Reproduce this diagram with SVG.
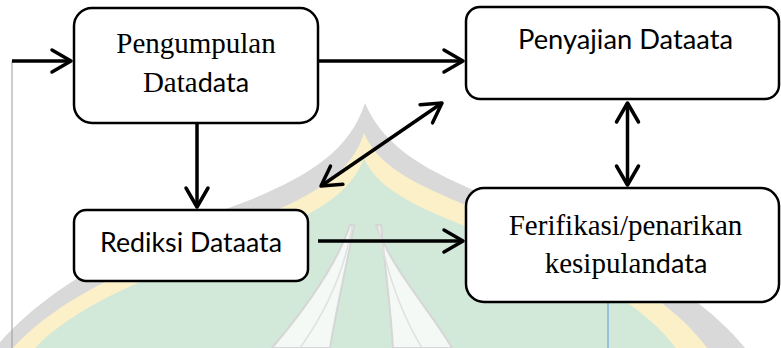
<svg xmlns="http://www.w3.org/2000/svg" width="781" height="348" viewBox="0 0 781 348">
<defs>
<style>
.box{fill:#fff;stroke:#000;stroke-width:2.5}
.serif{font-family:"Liberation Serif","Times New Roman",serif;font-size:29px;fill:#000}
.sans{font-family:Lato,"Open Sans",sans-serif;font-size:27px;fill:#000}
.conn{fill:none;stroke:#000;stroke-width:3.5}
.thin{fill:none;stroke-width:1}
.blade{fill:#fff;fill-opacity:0.75;stroke:#d6d6d6;stroke-width:2}
</style>
<marker id="ah" viewBox="-24 -14 28 28" refX="0" refY="0" markerWidth="28" markerHeight="28" markerUnits="userSpaceOnUse" orient="auto-start-reverse">
<path d="M-19,-11 L0,0 L-19,11" fill="none" stroke="#000" stroke-width="3.5" stroke-linecap="round" stroke-linejoin="round"/>
</marker>
</defs>
<rect width="781" height="348" fill="#fff"/>
<g id="watermark">
<path d="M365,103 C350,150 310,175 250,200 C170,230 60,270 -5,348 L745,348 C690,280 580,230 490,197 C430,172 385,150 365,103 Z" fill="#d9d9d9"/>
<path d="M364,133 C352,172 315,195 262,216 C180,248 70,285 13,348 L707,348 C665,290 575,248 485,213 C430,190 380,172 364,133 Z" fill="#fcf0c8"/>
<path d="M364,158 C352,192 318,212 270,232 C190,262 85,295 35,348 L676,348 C640,300 565,262 480,232 C425,210 378,192 364,158 Z" fill="#d2e8d9"/>
<path class="blade" d="M350,225 C335,270 300,315 272,348 L330,348 C338,300 348,260 354,225 Z"/>
<path d="M352,226 C343,280 320,320 300,348" fill="none" stroke="#e0e0e0" stroke-width="1.5"/>
<path class="blade" d="M376,225 C392,270 430,310 452,348 L393,348 C390,300 384,260 381,225 Z"/>
<path d="M378,226 C388,280 405,320 422,348" fill="none" stroke="#e0e0e0" stroke-width="1.5"/>
</g>
<g id="connectors">
<path class="thin" stroke="#9a9a9a" d="M12,61 V348"/>
<path class="thin" stroke="#5b9bd5" stroke-width="1.2" d="M608,303 V348"/>
<path class="conn" d="M12,61 H71" marker-end="url(#ah)"/>
<path class="conn" d="M319,61 H463" marker-end="url(#ah)"/>
<path class="conn" d="M197,124 V207" marker-end="url(#ah)"/>
<path class="conn" d="M321,186 L442,103" marker-start="url(#ah)" marker-end="url(#ah)"/>
<path class="conn" d="M627.5,103 V185" marker-start="url(#ah)" marker-end="url(#ah)"/>
<path class="conn" d="M318,241 H463" marker-end="url(#ah)"/>
</g>
<g id="pengumpulan">
<rect class="box" x="74" y="8" width="244" height="115" rx="18"/>
<text class="serif" x="196" y="53" text-anchor="middle">Pengumpulan</text>
<text x="196" y="92" text-anchor="middle"><tspan class="serif">Data</tspan><tspan class="sans">data</tspan></text>
</g>
<g id="penyajian">
<rect class="box" x="466" y="7" width="313" height="92" rx="14"/>
<text class="sans" x="625.5" y="49" text-anchor="middle" textLength="215" lengthAdjust="spacingAndGlyphs">Penyajian Dataata</text>
</g>
<g id="rediksi">
<rect class="box" x="74" y="210" width="234" height="71" rx="12"/>
<text class="sans" x="191" y="252" text-anchor="middle" textLength="182" lengthAdjust="spacingAndGlyphs">Rediksi Dataata</text>
</g>
<g id="ferifikasi">
<rect class="box" x="466" y="188" width="313" height="114" rx="18"/>
<text class="serif" x="625.5" y="235" text-anchor="middle">Ferifikasi/penarikan</text>
<text x="626" y="273" text-anchor="middle"><tspan class="serif">kesipulan</tspan><tspan class="sans">data</tspan></text>
</g>
</svg>
